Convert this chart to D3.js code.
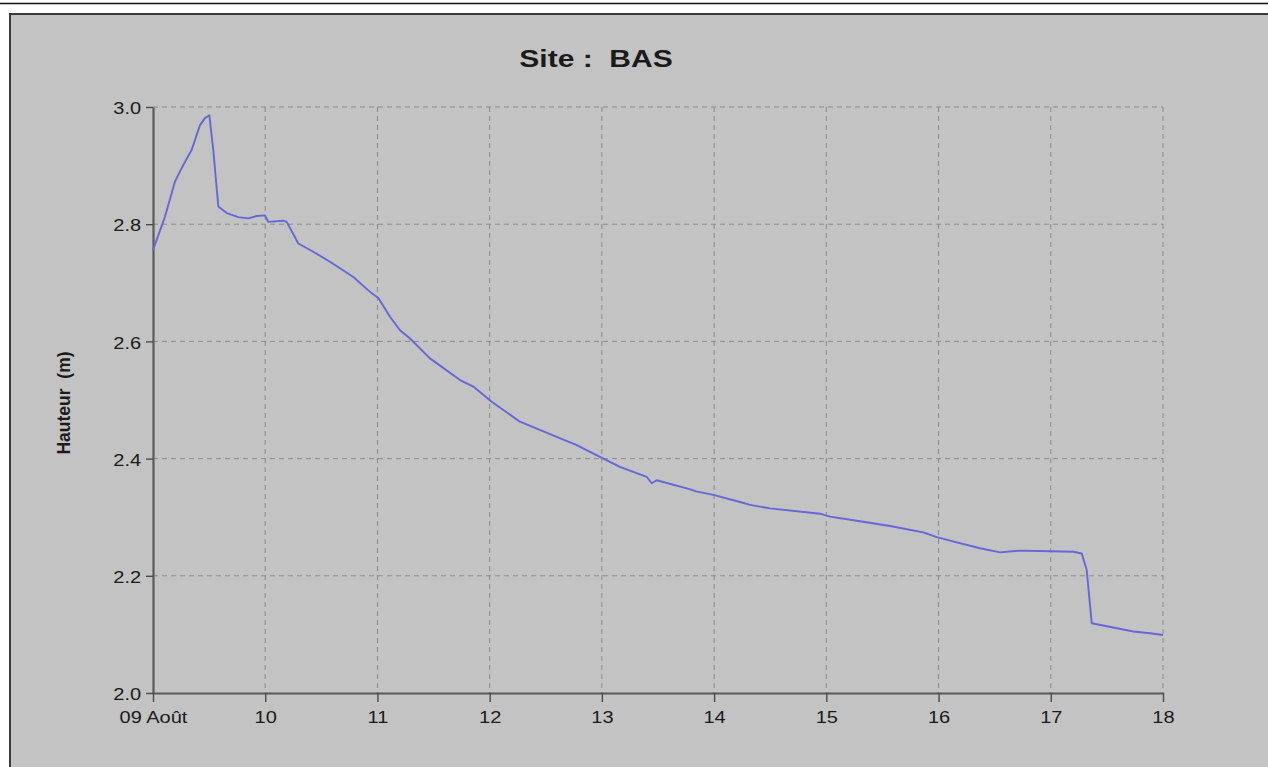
<!DOCTYPE html>
<html>
<head>
<meta charset="utf-8">
<script src="https://cdn.jsdelivr.net/npm/d3@7"></script>
<style>
  html, body { margin: 0; padding: 0; background: #ffffff; }
  svg { display: block; }
  text { font-family: "Liberation Sans", Arial, sans-serif; fill: #1a1a1a; white-space: pre; }
</style>
</head>
<body>
<svg id="chart" width="1268" height="767"></svg>
<script>
// Hauteur d'eau relevée au site BAS, du 09 au 18 août (jour décimal du mois)
const jours = [
  9.000, 9.107, 9.196, 9.270, 9.345, 9.419, 9.463, 9.502, 9.537, 9.582,
  9.657, 9.760, 9.849, 9.924, 9.998, 10.027, 10.161, 10.191, 10.295, 10.428,
  10.577, 10.785, 10.949, 11.008, 11.112, 11.201, 11.290, 11.468, 11.736, 11.854,
  12.018, 12.270, 12.597, 12.776, 13.013, 13.161, 13.399, 13.444, 13.488, 13.780,
  13.840, 13.993, 14.231, 14.320, 14.498, 14.944, 15.033, 15.271, 15.568, 15.864,
  15.984, 16.162, 16.370, 16.548, 16.726, 16.993, 17.201, 17.276, 17.320, 17.365,
  17.499, 17.736, 17.884, 18.000
];
const hauteurs = [
  2.756, 2.813, 2.873, 2.901, 2.927, 2.969, 2.981, 2.986, 2.927, 2.830,
  2.819, 2.812, 2.810, 2.814, 2.815, 2.804, 2.806, 2.804, 2.767, 2.753,
  2.736, 2.710, 2.682, 2.674, 2.642, 2.619, 2.605, 2.571, 2.534, 2.523,
  2.497, 2.463, 2.437, 2.423, 2.400, 2.386, 2.369, 2.358, 2.363, 2.348,
  2.344, 2.338, 2.326, 2.321, 2.315, 2.306, 2.301, 2.294, 2.285, 2.274,
  2.266, 2.257, 2.247, 2.240, 2.243, 2.242, 2.241, 2.238, 2.210, 2.119,
  2.114, 2.105, 2.102, 2.099
];

const yTicks = [2.0, 2.2, 2.4, 2.6, 2.8, 3.0];
const xTicks = [9, 10, 11, 12, 13, 14, 15, 16, 17, 18];
const xTickLabels = ["09 Août", "10", "11", "12", "13", "14", "15", "16", "17", "18"];
const titre = "Site :  BAS";
const titreAxeY = "Hauteur  (m)";

const W = 1268, H = 767;
const plot = { left: 153, right: 1163, top: 107, bottom: 693 };
const stretch = 1.25; // glyphs are drawn wider than the font's native width

const svg = d3.select("#chart");

// page frame: thin rule across the top, then the grey chart panel
svg.append("rect").attr("x", 0).attr("y", 0).attr("width", W).attr("height", H).attr("fill", "#ffffff");
svg.append("line").attr("x1", 0).attr("x2", W).attr("y1", 3.5).attr("y2", 3.5)
  .attr("stroke", "#111").attr("stroke-width", 1.5);
svg.append("rect").attr("x", 10).attr("y", 14).attr("width", W).attr("height", H)
  .attr("fill", "#c3c3c3").attr("stroke", "#3a3a3a").attr("stroke-width", 2);

const x = d3.scaleLinear().domain([9, 18]).range([plot.left, plot.right]);
const y = d3.scaleLinear().domain([2.0, 3.0]).range([plot.bottom, plot.top]);

// dashed grid
const grid = svg.append("g").attr("stroke", "#8a8a8a").attr("stroke-width", 1)
  .attr("stroke-dasharray", "5,4").attr("fill", "none");
grid.selectAll("line.v").data(xTicks.slice(1)).join("line")
  .attr("class", "v")
  .attr("x1", d => x(d)).attr("x2", d => x(d))
  .attr("y1", y(3.0)).attr("y2", y(2.0));
grid.selectAll("line.h").data(yTicks.slice(1)).join("line")
  .attr("class", "h")
  .attr("x1", x(9)).attr("x2", x(18))
  .attr("y1", d => y(d)).attr("y2", d => y(d));

// axes
const axisY = svg.append("g").attr("transform", `translate(${plot.left},0)`)
  .call(d3.axisLeft(y).tickValues(yTicks).tickFormat(d3.format(".1f")).tickSize(7).tickSizeOuter(0));
const axisX = svg.append("g").attr("transform", `translate(0,${plot.bottom})`)
  .call(d3.axisBottom(x).tickValues(xTicks).tickFormat((d, i) => xTickLabels[i]).tickSize(9).tickSizeOuter(0));

[axisY, axisX].forEach(a => {
  a.select(".domain").attr("stroke", "#5a5a5a").attr("stroke-width", 2.2);
  a.selectAll(".tick line").attr("stroke", "#4a4a4a").attr("stroke-width", 1.4);
  a.selectAll(".tick text").attr("font-size", 16).attr("fill", "#1a1a1a")
    .attr("font-family", "'Liberation Sans', Arial, sans-serif");
});
axisY.selectAll(".tick text").attr("x", -9.5).attr("dy", "0.42em")
  .attr("transform", `scale(${stretch},1)`);
axisX.selectAll(".tick text").attr("y", 19).attr("dy", "0.71em")
  .attr("transform", `scale(${stretch},1)`);

// series
const line = d3.line().x((d, i) => x(jours[i])).y(d => y(d));
svg.append("path").datum(hauteurs)
  .attr("d", line)
  .attr("fill", "none")
  .attr("stroke", "#6666d8")
  .attr("stroke-width", 1.9)
  .attr("stroke-linejoin", "round");

// title and y-axis label
svg.append("text")
  .attr("transform", `translate(596,67) scale(${stretch},1)`)
  .attr("text-anchor", "middle")
  .attr("font-size", 24).attr("font-weight", "bold")
  .text(titre);

svg.append("text")
  .attr("transform", `translate(70,403) rotate(-90)`)
  .attr("text-anchor", "middle")
  .attr("font-size", 17.5).attr("font-weight", "bold")
  .text(titreAxeY);
</script>
</body>
</html>
